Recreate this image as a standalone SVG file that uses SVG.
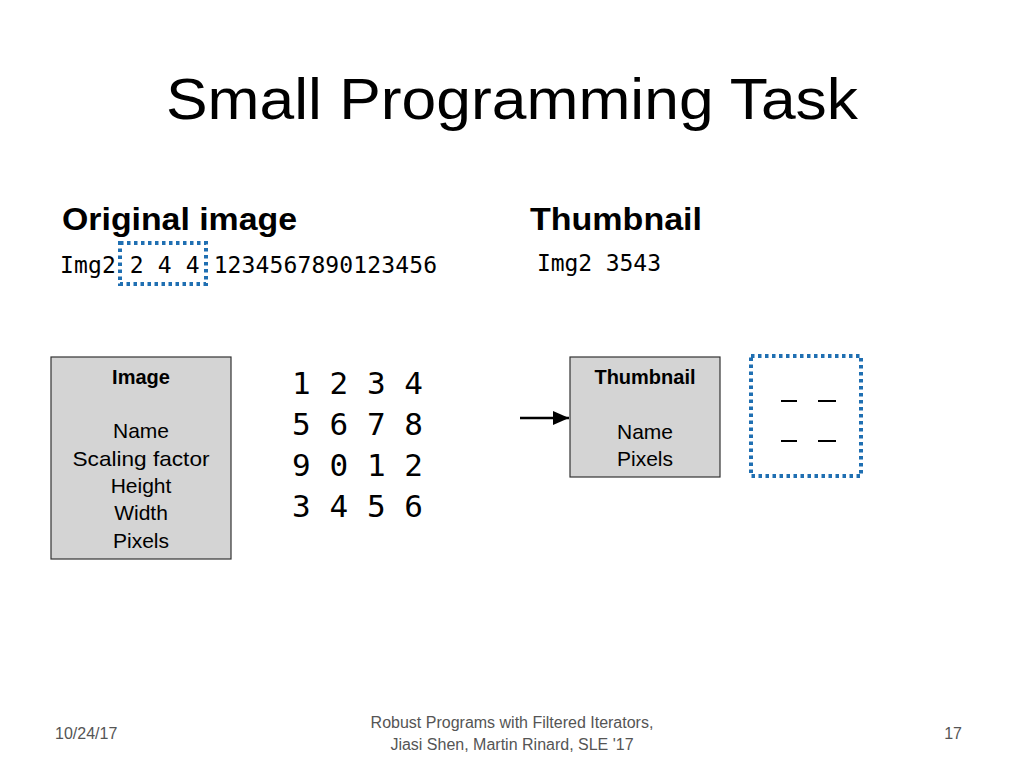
<svg xmlns="http://www.w3.org/2000/svg" width="1024" height="768" viewBox="0 0 1024 768">
<style>
.s{font-family:"Liberation Sans",Arial,sans-serif}
.m{font-family:"DejaVu Sans Mono","Liberation Mono",monospace}
.box{fill:#d4d4d4;stroke:#333;stroke-width:1.2}
.dot{fill:none;stroke:#1f6fb2;stroke-width:4;stroke-dasharray:3.5 3.5}
</style>
<defs><marker id="a" markerWidth="16" markerHeight="14" refX="16" refY="7" orient="auto" markerUnits="userSpaceOnUse"><path d="M0,0 L16,7 L0,14 Z" fill="#000"/></marker></defs>
<rect width="1024" height="768" fill="#fff"/>
<text class="s" x="166" y="119" font-size="58" textLength="692" lengthAdjust="spacingAndGlyphs">Small Programming Task</text>
<text class="s" x="62" y="230" font-size="32" font-weight="bold" textLength="235" lengthAdjust="spacingAndGlyphs">Original image</text>
<text class="s" x="530" y="230" font-size="32" font-weight="bold" textLength="172" lengthAdjust="spacingAndGlyphs">Thumbnail</text>
<text class="m" x="60" y="273" font-size="23" textLength="377">Img2 2 4 4 1234567890123456</text>
<text class="m" x="537" y="271" font-size="23" textLength="124">Img2 3543</text>
<rect class="dot" x="120" y="243" width="86" height="41"/>
<g id="image"><rect class="box" x="51" y="357" width="180" height="202"/>
<text class="s" x="141" y="384" font-size="20" font-weight="bold" text-anchor="middle">Image</text>
<text class="s" font-size="21" text-anchor="middle"><tspan x="141" y="438">Name</tspan><tspan x="141" y="466" textLength="137" lengthAdjust="spacingAndGlyphs">Scaling factor</tspan><tspan x="141" y="493">Height</tspan><tspan x="141" y="520">Width</tspan><tspan x="141" y="548">Pixels</tspan></text></g>
<g id="grid" class="m" font-size="31"><text x="292" y="394" textLength="131">1 2 3 4</text><text x="292" y="435" textLength="131">5 6 7 8</text><text x="292" y="476" textLength="131">9 0 1 2</text><text x="292" y="517" textLength="131">3 4 5 6</text></g>
<g id="connectors"><line x1="520" y1="418" x2="569" y2="418" stroke="#000" stroke-width="2.5" marker-end="url(#a)"/></g>
<g id="thumbnail"><rect class="box" x="570" y="357" width="150" height="120"/>
<text class="s" x="645" y="384" font-size="20" font-weight="bold" text-anchor="middle">Thumbnail</text>
<text class="s" font-size="21" text-anchor="middle"><tspan x="645" y="439">Name</tspan><tspan x="645" y="466">Pixels</tspan></text></g>
<g id="thumbgrid"><rect class="dot" x="751" y="356" width="110" height="120"/>
<line x1="781" y1="401" x2="797" y2="401" stroke="#000" stroke-width="2"/><line x1="818" y1="401" x2="836" y2="401" stroke="#000" stroke-width="2"/>
<line x1="781" y1="441" x2="797" y2="441" stroke="#000" stroke-width="2"/><line x1="818" y1="441" x2="836" y2="441" stroke="#000" stroke-width="2"/></g>
<g class="s" font-size="16" fill="#555"><text x="55" y="739">10/24/17</text><text x="512" y="728" text-anchor="middle">Robust Programs with Filtered Iterators,</text><text x="512" y="750" text-anchor="middle">Jiasi Shen, Martin Rinard, SLE '17</text><text x="962" y="739" text-anchor="end">17</text></g>
</svg>
